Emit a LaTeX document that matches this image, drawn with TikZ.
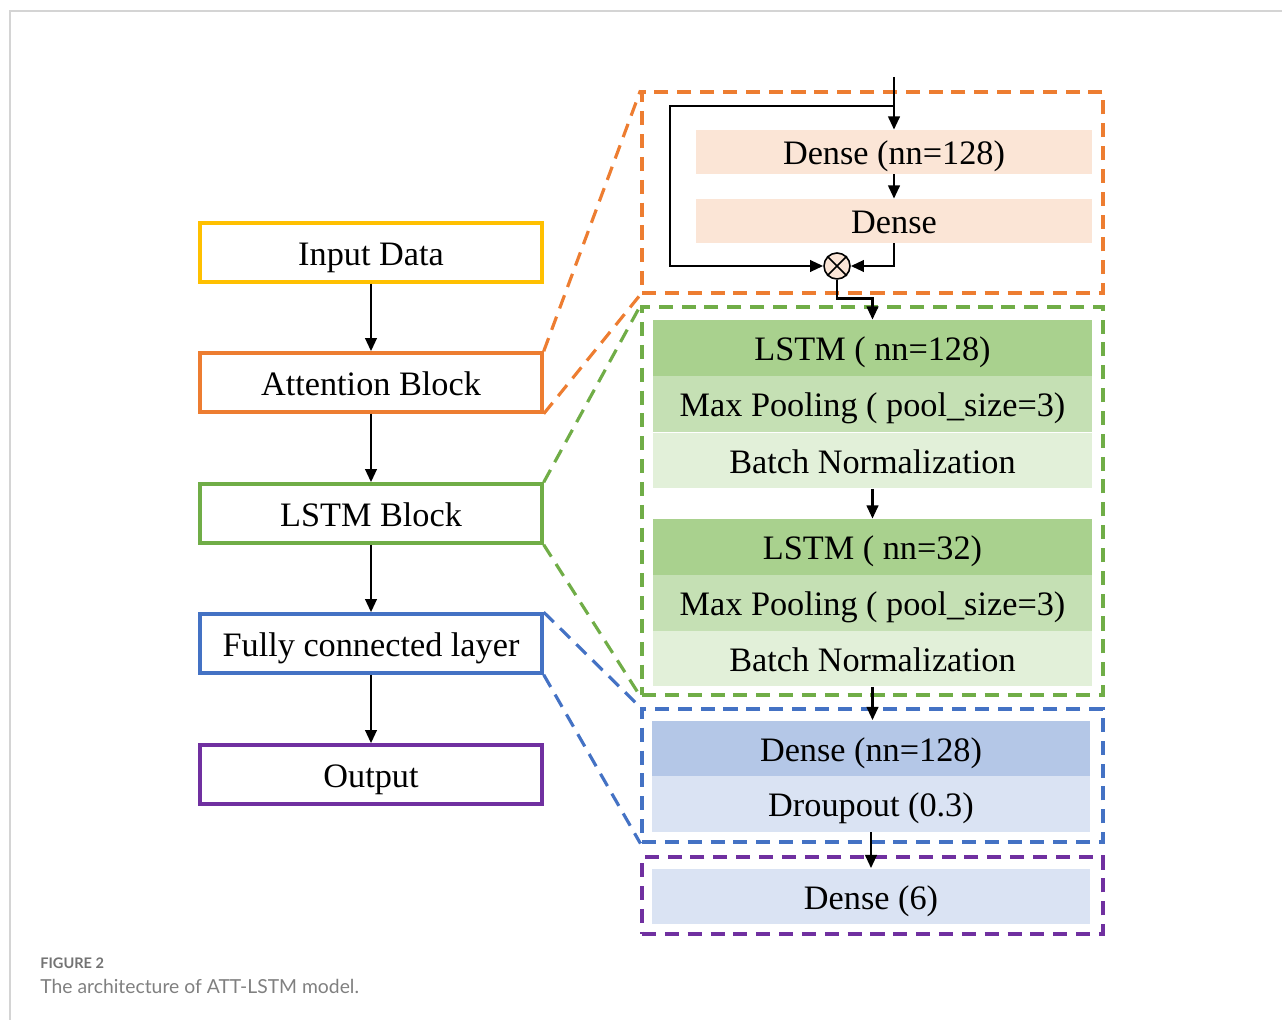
\documentclass[tikz,border=0pt]{standalone}
\usepackage{fontspec}
\setmainfont{Liberation Serif}
\newfontfamily\capfont{Lato}
\usetikzlibrary{arrows.meta}

\definecolor{cyel}{RGB}{255,192,0}
\definecolor{corg}{RGB}{237,125,49}
\definecolor{cgrn}{RGB}{112,173,71}
\definecolor{cblu}{RGB}{68,114,196}
\definecolor{cpur}{RGB}{112,48,160}
\definecolor{peach}{RGB}{251,229,214}
\definecolor{grnA}{RGB}{169,209,142}
\definecolor{grnB}{RGB}{197,224,180}
\definecolor{grnC}{RGB}{226,240,217}
\definecolor{bluA}{RGB}{180,199,231}
\definecolor{bluB}{RGB}{218,227,243}

\tikzset{
  txt/.style={font=\fontsize{19.5}{22}\selectfont, text height=18pt, text depth=3.6pt},
  lbox/.style={txt, draw, line width=2pt, minimum width=6.84cm, minimum height=1.18cm},
  layer/.style={txt, inner sep=0pt, minimum height=1.12cm},
  frame/.style={draw, line width=1.8pt, dash pattern=on 8pt off 5pt, minimum width=9.22cm},
  zoomline/.style={line width=1.8pt, dash pattern=on 8pt off 5pt},
  arr/.style={line width=1.5pt, -{Triangle[length=7.5pt,width=6.5pt]}}
}

\begin{document}
\begin{tikzpicture}[x=0.02cm, y=-0.02cm]
      \useasboundingbox (0,0) rectangle (1282,1020);
      \draw[line width=1.1pt, black!17] (10,1020) -- (10,11) -- (1282,11);

      % left column
      \node[lbox, draw=cyel] (inp) at (371,252.5) {Input Data};
      \node[lbox, draw=corg] (att) at (371,382.5) {Attention Block};
      \node[lbox, draw=cgrn] (lstm) at (371,513.5) {LSTM Block};
      \node[lbox, draw=cblu] (fc) at (371,643.5) {Fully connected layer};
      \node[lbox, draw=cpur] (out) at (371,774.5) {Output};
      \draw[arr] (inp) -- (att);
      \draw[arr] (att) -- (lstm);
      \draw[arr] (lstm) -- (fc);
      \draw[arr] (fc) -- (out);

      % dashed frames on the right
      \node[frame, draw=corg, minimum height=4.02cm] (afr) at (872.5,192.5) {};
      \node[frame, draw=cgrn, minimum height=7.76cm] (lfr) at (872.5,501) {};
      \node[frame, draw=cblu, minimum height=2.66cm] (ffr) at (872.5,775.5) {};
      \node[frame, draw=cpur, minimum height=1.54cm] (ofr) at (872.5,895.5) {};

      \draw[zoomline, corg] (att.north east) -- (afr.north west);
      \draw[zoomline, corg] (att.south east) -- (afr.south west);
      \draw[zoomline, cgrn] (lstm.north east) -- (lfr.north west);
      \draw[zoomline, cgrn] (lstm.south east) -- (lfr.south west);
      \draw[zoomline, cblu] (fc.north east) -- (ffr.north west);
      \draw[zoomline, cblu] (fc.south east) -- (ffr.south west);

      % attention block
      \node[layer, fill=peach, minimum width=7.92cm, minimum height=0.88cm] (d1) at (894,152) {Dense (nn=128)};
      \node[layer, fill=peach, minimum width=7.92cm, minimum height=0.88cm] (d2) at (894,221) {Dense};
      \node[draw, circle, fill=peach, line width=0.9pt, minimum size=0.52cm, inner sep=0pt] (mul) at (837,266) {};
      \draw[line width=0.9pt] (mul.north west) -- (mul.south east) (mul.north east) -- (mul.south west);
      \coordinate (top) at (894,77);
      \coordinate (br) at (894,106);
      \draw[arr] (top) -- (d1);
      \draw[arr] (d1) -- (d2);
      \draw[arr] (br) -- (670,106) |- (mul.west);
      \draw[arr] (d2.south) |- (mul.east);

      % lstm block
      \node[layer, fill=grnA, minimum width=8.78cm] (l1) at (872.5,348) {LSTM ( nn=128)};
      \node[layer, fill=grnB, minimum width=8.78cm] (mp1) at (872.5,404) {Max Pooling ( pool\_size=3)};
      \node[layer, fill=grnC, minimum width=8.78cm] (bn1) at (872.5,460.5) {Batch Normalization};
      \node[layer, fill=grnA, minimum width=8.78cm] (l2) at (872.5,547) {LSTM ( nn=32)};
      \node[layer, fill=grnB, minimum width=8.78cm] (mp2) at (872.5,603) {Max Pooling ( pool\_size=3)};
      \node[layer, fill=grnC, minimum width=8.78cm] (bn2) at (872.5,658.5) {Batch Normalization};
      \draw[arr] (mul.south) -- ++(0,19) -| (l1.north);
      \draw[arr] (bn1) -- (l2);

      % fully connected + output
      \node[layer, fill=bluA, minimum width=8.76cm] (fcd) at (871,748.5) {Dense (nn=128)};
      \node[layer, fill=bluB, minimum width=8.76cm] (drop) at (871,804) {Droupout (0.3)};
      \node[layer, fill=bluB, minimum width=8.76cm] (dout) at (871,896.5) {Dense (6)};
      \draw[arr] (bn2.south) -- (bn2.south |- fcd.north);
      \draw[arr] (drop.south) -- (drop.south |- dout.north);

      % caption
      \node[anchor=base west, inner sep=0pt, text=black!55, font=\capfont\fontsize{8.3}{10}\selectfont\bfseries] (fig) at (40,968) {FIGURE 2};
      \node[anchor=base west, inner sep=0pt, text=black!50, font=\capfont\fontsize{11}{13}\selectfont] (cap) at (40,993) {The architecture of ATT-LSTM model.};
\end{tikzpicture}
\end{document}
